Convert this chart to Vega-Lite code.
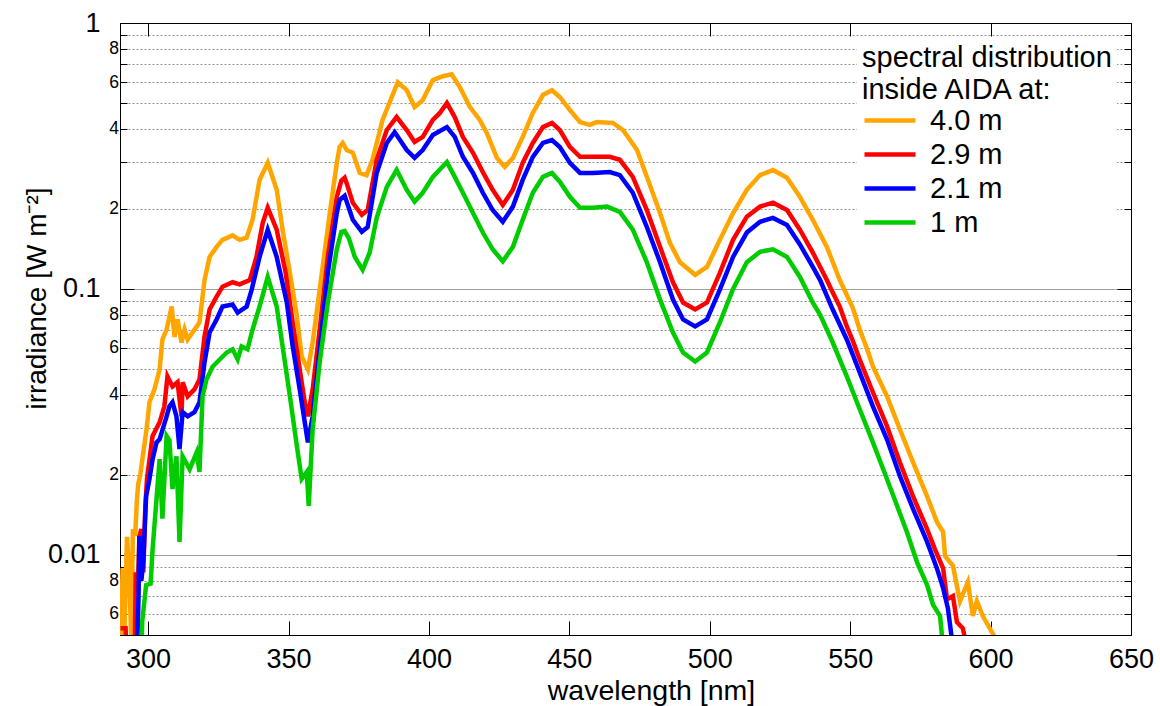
{
  "$schema": "https://vega.github.io/schema/vega-lite/v6.json",
  "autosize": {"type": "none"},
  "padding": {"left": 120, "top": 23, "right": 29, "bottom": 71},
  "width": 1011,
  "height": 612,
  "config": {"font": "Liberation Sans", "view": {"stroke": "black", "strokeWidth": 1}},
  "data": {"values": [
    {"wl":290.3,"E":0.004,"h":"4.0 m"},{"wl":290.5,"E":0.0053,"h":"4.0 m"},{"wl":290.9,"E":0.0089,"h":"4.0 m"},{"wl":291.4,"E":0.0045,"h":"4.0 m"},{"wl":292.5,"E":0.0117,"h":"4.0 m"},{"wl":293.3,"E":0.0085,"h":"4.0 m"},{"wl":294.0,"E":0.0048,"h":"4.0 m"},{"wl":294.6,"E":0.0125,"h":"4.0 m"},{"wl":295.4,"E":0.0118,"h":"4.0 m"},{"wl":296.0,"E":0.016,"h":"4.0 m"},{"wl":296.5,"E":0.0185,"h":"4.0 m"},{"wl":297.2,"E":0.02,"h":"4.0 m"},{"wl":298.8,"E":0.0265,"h":"4.0 m"},{"wl":299.5,"E":0.03,"h":"4.0 m"},{"wl":300.5,"E":0.0375,"h":"4.0 m"},{"wl":302.3,"E":0.042,"h":"4.0 m"},{"wl":304.1,"E":0.0498,"h":"4.0 m"},{"wl":305.1,"E":0.0646,"h":"4.0 m"},{"wl":306.6,"E":0.0704,"h":"4.0 m"},{"wl":308.4,"E":0.0859,"h":"4.0 m"},{"wl":309.4,"E":0.066,"h":"4.0 m"},{"wl":310.5,"E":0.0768,"h":"4.0 m"},{"wl":311.9,"E":0.0629,"h":"4.0 m"},{"wl":313.0,"E":0.0704,"h":"4.0 m"},{"wl":314.1,"E":0.0646,"h":"4.0 m"},{"wl":315.8,"E":0.0686,"h":"4.0 m"},{"wl":318.3,"E":0.0748,"h":"4.0 m"},{"wl":320.1,"E":0.108,"h":"4.0 m"},{"wl":321.9,"E":0.132,"h":"4.0 m"},{"wl":324.4,"E":0.144,"h":"4.0 m"},{"wl":326.5,"E":0.153,"h":"4.0 m"},{"wl":330.1,"E":0.159,"h":"4.0 m"},{"wl":332.6,"E":0.153,"h":"4.0 m"},{"wl":335.1,"E":0.156,"h":"4.0 m"},{"wl":337.2,"E":0.182,"h":"4.0 m"},{"wl":339.7,"E":0.257,"h":"4.0 m"},{"wl":342.6,"E":0.298,"h":"4.0 m"},{"wl":345.8,"E":0.236,"h":"4.0 m"},{"wl":347.9,"E":0.167,"h":"4.0 m"},{"wl":350.5,"E":0.115,"h":"4.0 m"},{"wl":353.0,"E":0.0788,"h":"4.0 m"},{"wl":354.7,"E":0.0558,"h":"4.0 m"},{"wl":356.9,"E":0.0498,"h":"4.0 m"},{"wl":358.6,"E":0.0629,"h":"4.0 m"},{"wl":361.1,"E":0.0995,"h":"4.0 m"},{"wl":364.7,"E":0.193,"h":"4.0 m"},{"wl":367.2,"E":0.298,"h":"4.0 m"},{"wl":368.2,"E":0.342,"h":"4.0 m"},{"wl":369.3,"E":0.354,"h":"4.0 m"},{"wl":370.7,"E":0.333,"h":"4.0 m"},{"wl":372.9,"E":0.325,"h":"4.0 m"},{"wl":375.4,"E":0.273,"h":"4.0 m"},{"wl":377.8,"E":0.268,"h":"4.0 m"},{"wl":379.9,"E":0.306,"h":"4.0 m"},{"wl":383.5,"E":0.432,"h":"4.0 m"},{"wl":388.9,"E":0.599,"h":"4.0 m"},{"wl":392.1,"E":0.559,"h":"4.0 m"},{"wl":394.9,"E":0.483,"h":"4.0 m"},{"wl":397.8,"E":0.513,"h":"4.0 m"},{"wl":401.4,"E":0.61,"h":"4.0 m"},{"wl":405.0,"E":0.631,"h":"4.0 m"},{"wl":408.1,"E":0.642,"h":"4.0 m"},{"wl":411.0,"E":0.574,"h":"4.0 m"},{"wl":414.6,"E":0.483,"h":"4.0 m"},{"wl":418.1,"E":0.432,"h":"4.0 m"},{"wl":420.6,"E":0.386,"h":"4.0 m"},{"wl":424.2,"E":0.311,"h":"4.0 m"},{"wl":427.0,"E":0.288,"h":"4.0 m"},{"wl":429.9,"E":0.311,"h":"4.0 m"},{"wl":433.4,"E":0.373,"h":"4.0 m"},{"wl":437.0,"E":0.459,"h":"4.0 m"},{"wl":440.6,"E":0.536,"h":"4.0 m"},{"wl":443.8,"E":0.559,"h":"4.0 m"},{"wl":446.6,"E":0.527,"h":"4.0 m"},{"wl":450.2,"E":0.471,"h":"4.0 m"},{"wl":453.8,"E":0.424,"h":"4.0 m"},{"wl":457.3,"E":0.414,"h":"4.0 m"},{"wl":459.8,"E":0.424,"h":"4.0 m"},{"wl":465.5,"E":0.421,"h":"4.0 m"},{"wl":469.1,"E":0.396,"h":"4.0 m"},{"wl":474.1,"E":0.333,"h":"4.0 m"},{"wl":477.6,"E":0.264,"h":"4.0 m"},{"wl":482.3,"E":0.193,"h":"4.0 m"},{"wl":485.8,"E":0.149,"h":"4.0 m"},{"wl":489.4,"E":0.126,"h":"4.0 m"},{"wl":494.8,"E":0.113,"h":"4.0 m"},{"wl":499.0,"E":0.121,"h":"4.0 m"},{"wl":503.6,"E":0.153,"h":"4.0 m"},{"wl":508.3,"E":0.193,"h":"4.0 m"},{"wl":513.2,"E":0.236,"h":"4.0 m"},{"wl":517.9,"E":0.268,"h":"4.0 m"},{"wl":522.5,"E":0.28,"h":"4.0 m"},{"wl":527.5,"E":0.262,"h":"4.0 m"},{"wl":532.1,"E":0.222,"h":"4.0 m"},{"wl":536.7,"E":0.182,"h":"4.0 m"},{"wl":541.7,"E":0.144,"h":"4.0 m"},{"wl":546.3,"E":0.108,"h":"4.0 m"},{"wl":550.9,"E":0.0852,"h":"4.0 m"},{"wl":553.4,"E":0.0704,"h":"4.0 m"},{"wl":555.9,"E":0.06,"h":"4.0 m"},{"wl":558.1,"E":0.0511,"h":"4.0 m"},{"wl":563.1,"E":0.0395,"h":"4.0 m"},{"wl":567.7,"E":0.0297,"h":"4.0 m"},{"wl":572.4,"E":0.0223,"h":"4.0 m"},{"wl":577.4,"E":0.0166,"h":"4.0 m"},{"wl":580.9,"E":0.0133,"h":"4.0 m"},{"wl":583.1,"E":0.0122,"h":"4.0 m"},{"wl":583.8,"E":0.0099,"h":"4.0 m"},{"wl":586.6,"E":0.0091,"h":"4.0 m"},{"wl":589.1,"E":0.0067,"h":"4.0 m"},{"wl":591.9,"E":0.0079,"h":"4.0 m"},{"wl":593.7,"E":0.0059,"h":"4.0 m"},{"wl":595.1,"E":0.0067,"h":"4.0 m"},{"wl":597.2,"E":0.0059,"h":"4.0 m"},{"wl":599.7,"E":0.0053,"h":"4.0 m"},{"wl":601.5,"E":0.0049,"h":"4.0 m"},

    {"wl":290.2,"E":0.0053,"h":"2.9 m"},{"wl":292.0,"E":0.0053,"h":"2.9 m"},{"wl":292.4,"E":0.004,"h":"2.9 m"},{"wl":295.2,"E":0.004,"h":"2.9 m"},{"wl":295.6,"E":0.0086,"h":"2.9 m"},{"wl":296.2,"E":0.0065,"h":"2.9 m"},{"wl":296.9,"E":0.0117,"h":"2.9 m"},{"wl":297.6,"E":0.0125,"h":"2.9 m"},{"wl":298.3,"E":0.0086,"h":"2.9 m"},{"wl":299.0,"E":0.015,"h":"2.9 m"},{"wl":299.6,"E":0.0193,"h":"2.9 m"},{"wl":301.6,"E":0.028,"h":"2.9 m"},{"wl":304.1,"E":0.0315,"h":"2.9 m"},{"wl":305.8,"E":0.0362,"h":"2.9 m"},{"wl":306.9,"E":0.0469,"h":"2.9 m"},{"wl":308.7,"E":0.043,"h":"2.9 m"},{"wl":310.5,"E":0.0446,"h":"2.9 m"},{"wl":311.9,"E":0.0332,"h":"2.9 m"},{"wl":312.3,"E":0.0446,"h":"2.9 m"},{"wl":314.1,"E":0.0395,"h":"2.9 m"},{"wl":316.5,"E":0.0419,"h":"2.9 m"},{"wl":318.3,"E":0.0457,"h":"2.9 m"},{"wl":320.1,"E":0.0663,"h":"2.9 m"},{"wl":321.9,"E":0.0837,"h":"2.9 m"},{"wl":324.4,"E":0.0936,"h":"2.9 m"},{"wl":326.5,"E":0.102,"h":"2.9 m"},{"wl":330.1,"E":0.106,"h":"2.9 m"},{"wl":332.6,"E":0.104,"h":"2.9 m"},{"wl":336.2,"E":0.108,"h":"2.9 m"},{"wl":338.6,"E":0.132,"h":"2.9 m"},{"wl":340.8,"E":0.177,"h":"2.9 m"},{"wl":342.6,"E":0.202,"h":"2.9 m"},{"wl":345.8,"E":0.167,"h":"2.9 m"},{"wl":349.0,"E":0.115,"h":"2.9 m"},{"wl":351.5,"E":0.0748,"h":"2.9 m"},{"wl":354.0,"E":0.0498,"h":"2.9 m"},{"wl":355.8,"E":0.0375,"h":"2.9 m"},{"wl":356.9,"E":0.0332,"h":"2.9 m"},{"wl":358.6,"E":0.0419,"h":"2.9 m"},{"wl":361.1,"E":0.0704,"h":"2.9 m"},{"wl":364.0,"E":0.132,"h":"2.9 m"},{"wl":367.2,"E":0.222,"h":"2.9 m"},{"wl":368.8,"E":0.255,"h":"2.9 m"},{"wl":370.0,"E":0.262,"h":"2.9 m"},{"wl":370.7,"E":0.25,"h":"2.9 m"},{"wl":372.9,"E":0.211,"h":"2.9 m"},{"wl":376.1,"E":0.19,"h":"2.9 m"},{"wl":378.2,"E":0.198,"h":"2.9 m"},{"wl":381.4,"E":0.306,"h":"2.9 m"},{"wl":385.0,"E":0.396,"h":"2.9 m"},{"wl":388.5,"E":0.443,"h":"2.9 m"},{"wl":392.1,"E":0.396,"h":"2.9 m"},{"wl":394.9,"E":0.357,"h":"2.9 m"},{"wl":397.8,"E":0.373,"h":"2.9 m"},{"wl":401.4,"E":0.432,"h":"2.9 m"},{"wl":403.9,"E":0.459,"h":"2.9 m"},{"wl":406.4,"E":0.5,"h":"2.9 m"},{"wl":409.2,"E":0.443,"h":"2.9 m"},{"wl":412.1,"E":0.373,"h":"2.9 m"},{"wl":415.7,"E":0.325,"h":"2.9 m"},{"wl":419.2,"E":0.275,"h":"2.9 m"},{"wl":422.7,"E":0.236,"h":"2.9 m"},{"wl":426.3,"E":0.207,"h":"2.9 m"},{"wl":429.9,"E":0.236,"h":"2.9 m"},{"wl":433.4,"E":0.298,"h":"2.9 m"},{"wl":437.0,"E":0.354,"h":"2.9 m"},{"wl":440.6,"E":0.406,"h":"2.9 m"},{"wl":443.8,"E":0.421,"h":"2.9 m"},{"wl":446.6,"E":0.396,"h":"2.9 m"},{"wl":450.2,"E":0.342,"h":"2.9 m"},{"wl":453.8,"E":0.314,"h":"2.9 m"},{"wl":458.4,"E":0.314,"h":"2.9 m"},{"wl":464.4,"E":0.314,"h":"2.9 m"},{"wl":468.0,"E":0.306,"h":"2.9 m"},{"wl":472.6,"E":0.264,"h":"2.9 m"},{"wl":477.6,"E":0.198,"h":"2.9 m"},{"wl":482.3,"E":0.144,"h":"2.9 m"},{"wl":486.9,"E":0.106,"h":"2.9 m"},{"wl":490.5,"E":0.0889,"h":"2.9 m"},{"wl":494.8,"E":0.0837,"h":"2.9 m"},{"wl":499.0,"E":0.0889,"h":"2.9 m"},{"wl":503.6,"E":0.115,"h":"2.9 m"},{"wl":508.3,"E":0.153,"h":"2.9 m"},{"wl":513.2,"E":0.187,"h":"2.9 m"},{"wl":517.9,"E":0.204,"h":"2.9 m"},{"wl":522.5,"E":0.211,"h":"2.9 m"},{"wl":527.5,"E":0.198,"h":"2.9 m"},{"wl":532.1,"E":0.167,"h":"2.9 m"},{"wl":536.7,"E":0.137,"h":"2.9 m"},{"wl":541.7,"E":0.108,"h":"2.9 m"},{"wl":543.8,"E":0.0969,"h":"2.9 m"},{"wl":546.3,"E":0.0859,"h":"2.9 m"},{"wl":548.8,"E":0.0723,"h":"2.9 m"},{"wl":550.9,"E":0.064,"h":"2.9 m"},{"wl":553.4,"E":0.0543,"h":"2.9 m"},{"wl":558.1,"E":0.0409,"h":"2.9 m"},{"wl":563.1,"E":0.0305,"h":"2.9 m"},{"wl":567.7,"E":0.0223,"h":"2.9 m"},{"wl":572.4,"E":0.0166,"h":"2.9 m"},{"wl":577.4,"E":0.0125,"h":"2.9 m"},{"wl":580.2,"E":0.0105,"h":"2.9 m"},{"wl":583.1,"E":0.0089,"h":"2.9 m"},{"wl":584.5,"E":0.0068,"h":"2.9 m"},{"wl":586.6,"E":0.007,"h":"2.9 m"},{"wl":588.0,"E":0.0056,"h":"2.9 m"},{"wl":590.1,"E":0.0053,"h":"2.9 m"},{"wl":591.6,"E":0.0045,"h":"2.9 m"},

    {"wl":296.0,"E":0.004,"h":"2.1 m"},{"wl":296.6,"E":0.007,"h":"2.1 m"},{"wl":296.9,"E":0.0118,"h":"2.1 m"},{"wl":297.6,"E":0.008,"h":"2.1 m"},{"wl":298.3,"E":0.0095,"h":"2.1 m"},{"wl":299.3,"E":0.0166,"h":"2.1 m"},{"wl":300.5,"E":0.0193,"h":"2.1 m"},{"wl":301.6,"E":0.0229,"h":"2.1 m"},{"wl":303.0,"E":0.0265,"h":"2.1 m"},{"wl":304.1,"E":0.0272,"h":"2.1 m"},{"wl":306.6,"E":0.0332,"h":"2.1 m"},{"wl":307.6,"E":0.0362,"h":"2.1 m"},{"wl":308.7,"E":0.0375,"h":"2.1 m"},{"wl":310.1,"E":0.0332,"h":"2.1 m"},{"wl":311.2,"E":0.025,"h":"2.1 m"},{"wl":312.3,"E":0.0344,"h":"2.1 m"},{"wl":314.1,"E":0.0332,"h":"2.1 m"},{"wl":316.5,"E":0.0344,"h":"2.1 m"},{"wl":318.3,"E":0.0375,"h":"2.1 m"},{"wl":320.1,"E":0.053,"h":"2.1 m"},{"wl":321.9,"E":0.0686,"h":"2.1 m"},{"wl":324.4,"E":0.0768,"h":"2.1 m"},{"wl":326.5,"E":0.0859,"h":"2.1 m"},{"wl":330.1,"E":0.0874,"h":"2.1 m"},{"wl":331.9,"E":0.0815,"h":"2.1 m"},{"wl":335.1,"E":0.0859,"h":"2.1 m"},{"wl":336.9,"E":0.0995,"h":"2.1 m"},{"wl":339.7,"E":0.132,"h":"2.1 m"},{"wl":342.6,"E":0.167,"h":"2.1 m"},{"wl":345.8,"E":0.132,"h":"2.1 m"},{"wl":349.4,"E":0.0889,"h":"2.1 m"},{"wl":351.5,"E":0.0608,"h":"2.1 m"},{"wl":354.0,"E":0.0419,"h":"2.1 m"},{"wl":355.8,"E":0.0315,"h":"2.1 m"},{"wl":356.9,"E":0.0265,"h":"2.1 m"},{"wl":358.6,"E":0.0332,"h":"2.1 m"},{"wl":361.1,"E":0.0593,"h":"2.1 m"},{"wl":364.0,"E":0.115,"h":"2.1 m"},{"wl":367.2,"E":0.193,"h":"2.1 m"},{"wl":368.2,"E":0.216,"h":"2.1 m"},{"wl":370.0,"E":0.224,"h":"2.1 m"},{"wl":372.9,"E":0.182,"h":"2.1 m"},{"wl":376.1,"E":0.164,"h":"2.1 m"},{"wl":378.2,"E":0.171,"h":"2.1 m"},{"wl":381.4,"E":0.273,"h":"2.1 m"},{"wl":385.0,"E":0.354,"h":"2.1 m"},{"wl":387.8,"E":0.389,"h":"2.1 m"},{"wl":392.1,"E":0.333,"h":"2.1 m"},{"wl":394.9,"E":0.311,"h":"2.1 m"},{"wl":397.8,"E":0.333,"h":"2.1 m"},{"wl":401.4,"E":0.379,"h":"2.1 m"},{"wl":406.4,"E":0.406,"h":"2.1 m"},{"wl":409.2,"E":0.373,"h":"2.1 m"},{"wl":412.1,"E":0.314,"h":"2.1 m"},{"wl":415.7,"E":0.273,"h":"2.1 m"},{"wl":419.2,"E":0.23,"h":"2.1 m"},{"wl":422.7,"E":0.198,"h":"2.1 m"},{"wl":426.3,"E":0.179,"h":"2.1 m"},{"wl":429.9,"E":0.204,"h":"2.1 m"},{"wl":433.4,"E":0.257,"h":"2.1 m"},{"wl":437.0,"E":0.314,"h":"2.1 m"},{"wl":440.6,"E":0.354,"h":"2.1 m"},{"wl":443.8,"E":0.363,"h":"2.1 m"},{"wl":446.6,"E":0.342,"h":"2.1 m"},{"wl":450.2,"E":0.298,"h":"2.1 m"},{"wl":453.8,"E":0.273,"h":"2.1 m"},{"wl":458.4,"E":0.273,"h":"2.1 m"},{"wl":464.4,"E":0.275,"h":"2.1 m"},{"wl":468.0,"E":0.268,"h":"2.1 m"},{"wl":472.6,"E":0.23,"h":"2.1 m"},{"wl":477.6,"E":0.171,"h":"2.1 m"},{"wl":482.3,"E":0.126,"h":"2.1 m"},{"wl":486.9,"E":0.0912,"h":"2.1 m"},{"wl":490.5,"E":0.0768,"h":"2.1 m"},{"wl":494.8,"E":0.0723,"h":"2.1 m"},{"wl":499.0,"E":0.0768,"h":"2.1 m"},{"wl":503.6,"E":0.0995,"h":"2.1 m"},{"wl":508.3,"E":0.132,"h":"2.1 m"},{"wl":513.2,"E":0.163,"h":"2.1 m"},{"wl":517.9,"E":0.179,"h":"2.1 m"},{"wl":522.5,"E":0.185,"h":"2.1 m"},{"wl":527.5,"E":0.174,"h":"2.1 m"},{"wl":532.1,"E":0.147,"h":"2.1 m"},{"wl":536.7,"E":0.121,"h":"2.1 m"},{"wl":539.3,"E":0.108,"h":"2.1 m"},{"wl":543.8,"E":0.0837,"h":"2.1 m"},{"wl":548.8,"E":0.0646,"h":"2.1 m"},{"wl":553.4,"E":0.0486,"h":"2.1 m"},{"wl":558.1,"E":0.0362,"h":"2.1 m"},{"wl":563.1,"E":0.0272,"h":"2.1 m"},{"wl":567.7,"E":0.0198,"h":"2.1 m"},{"wl":572.4,"E":0.0149,"h":"2.1 m"},{"wl":577.4,"E":0.0112,"h":"2.1 m"},{"wl":580.9,"E":0.0089,"h":"2.1 m"},{"wl":583.1,"E":0.0075,"h":"2.1 m"},{"wl":584.8,"E":0.0063,"h":"2.1 m"},{"wl":586.6,"E":0.0045,"h":"2.1 m"},

    {"wl":297.6,"E":0.004,"h":"1 m"},{"wl":297.9,"E":0.0056,"h":"1 m"},{"wl":299.3,"E":0.0077,"h":"1 m"},{"wl":300.9,"E":0.0078,"h":"1 m"},{"wl":301.6,"E":0.0105,"h":"1 m"},{"wl":303.0,"E":0.0162,"h":"1 m"},{"wl":304.1,"E":0.0229,"h":"1 m"},{"wl":305.1,"E":0.0137,"h":"1 m"},{"wl":306.6,"E":0.028,"h":"1 m"},{"wl":307.6,"E":0.027,"h":"1 m"},{"wl":308.7,"E":0.0177,"h":"1 m"},{"wl":310.1,"E":0.0235,"h":"1 m"},{"wl":311.2,"E":0.0112,"h":"1 m"},{"wl":312.3,"E":0.0235,"h":"1 m"},{"wl":314.8,"E":0.021,"h":"1 m"},{"wl":317.3,"E":0.0243,"h":"1 m"},{"wl":318.3,"E":0.0205,"h":"1 m"},{"wl":319.4,"E":0.0395,"h":"1 m"},{"wl":320.8,"E":0.0457,"h":"1 m"},{"wl":323.0,"E":0.0511,"h":"1 m"},{"wl":325.5,"E":0.0543,"h":"1 m"},{"wl":328.0,"E":0.0577,"h":"1 m"},{"wl":330.1,"E":0.0593,"h":"1 m"},{"wl":331.9,"E":0.0543,"h":"1 m"},{"wl":333.3,"E":0.0608,"h":"1 m"},{"wl":335.4,"E":0.0593,"h":"1 m"},{"wl":337.2,"E":0.0704,"h":"1 m"},{"wl":339.7,"E":0.0859,"h":"1 m"},{"wl":342.6,"E":0.111,"h":"1 m"},{"wl":345.8,"E":0.0859,"h":"1 m"},{"wl":347.9,"E":0.0608,"h":"1 m"},{"wl":350.5,"E":0.0395,"h":"1 m"},{"wl":353.0,"E":0.0256,"h":"1 m"},{"wl":354.7,"E":0.0193,"h":"1 m"},{"wl":356.5,"E":0.0205,"h":"1 m"},{"wl":357.2,"E":0.0153,"h":"1 m"},{"wl":358.6,"E":0.0297,"h":"1 m"},{"wl":361.1,"E":0.053,"h":"1 m"},{"wl":364.0,"E":0.0889,"h":"1 m"},{"wl":367.2,"E":0.141,"h":"1 m"},{"wl":368.8,"E":0.164,"h":"1 m"},{"wl":370.0,"E":0.165,"h":"1 m"},{"wl":371.5,"E":0.155,"h":"1 m"},{"wl":373.6,"E":0.132,"h":"1 m"},{"wl":376.4,"E":0.118,"h":"1 m"},{"wl":378.9,"E":0.137,"h":"1 m"},{"wl":381.4,"E":0.185,"h":"1 m"},{"wl":385.0,"E":0.242,"h":"1 m"},{"wl":388.5,"E":0.28,"h":"1 m"},{"wl":392.1,"E":0.236,"h":"1 m"},{"wl":394.9,"E":0.213,"h":"1 m"},{"wl":397.8,"E":0.23,"h":"1 m"},{"wl":401.4,"E":0.264,"h":"1 m"},{"wl":406.4,"E":0.3,"h":"1 m"},{"wl":409.2,"E":0.264,"h":"1 m"},{"wl":412.1,"E":0.23,"h":"1 m"},{"wl":415.7,"E":0.193,"h":"1 m"},{"wl":419.2,"E":0.163,"h":"1 m"},{"wl":422.7,"E":0.141,"h":"1 m"},{"wl":426.3,"E":0.127,"h":"1 m"},{"wl":429.9,"E":0.144,"h":"1 m"},{"wl":433.4,"E":0.182,"h":"1 m"},{"wl":437.0,"E":0.23,"h":"1 m"},{"wl":440.6,"E":0.264,"h":"1 m"},{"wl":443.8,"E":0.273,"h":"1 m"},{"wl":446.6,"E":0.253,"h":"1 m"},{"wl":450.2,"E":0.222,"h":"1 m"},{"wl":453.8,"E":0.202,"h":"1 m"},{"wl":458.4,"E":0.202,"h":"1 m"},{"wl":463.4,"E":0.204,"h":"1 m"},{"wl":468.0,"E":0.195,"h":"1 m"},{"wl":472.6,"E":0.167,"h":"1 m"},{"wl":477.6,"E":0.126,"h":"1 m"},{"wl":482.3,"E":0.0912,"h":"1 m"},{"wl":486.9,"E":0.0686,"h":"1 m"},{"wl":490.5,"E":0.0577,"h":"1 m"},{"wl":494.8,"E":0.0534,"h":"1 m"},{"wl":499.0,"E":0.0577,"h":"1 m"},{"wl":503.6,"E":0.0748,"h":"1 m"},{"wl":508.3,"E":0.1,"h":"1 m"},{"wl":513.2,"E":0.126,"h":"1 m"},{"wl":517.9,"E":0.138,"h":"1 m"},{"wl":522.5,"E":0.141,"h":"1 m"},{"wl":527.5,"E":0.132,"h":"1 m"},{"wl":532.1,"E":0.111,"h":"1 m"},{"wl":536.7,"E":0.0889,"h":"1 m"},{"wl":539.3,"E":0.08,"h":"1 m"},{"wl":543.8,"E":0.0629,"h":"1 m"},{"wl":548.8,"E":0.0469,"h":"1 m"},{"wl":553.4,"E":0.0353,"h":"1 m"},{"wl":558.1,"E":0.0265,"h":"1 m"},{"wl":563.1,"E":0.0193,"h":"1 m"},{"wl":566.7,"E":0.0153,"h":"1 m"},{"wl":570.2,"E":0.0122,"h":"1 m"},{"wl":573.8,"E":0.0094,"h":"1 m"},{"wl":577.4,"E":0.0077,"h":"1 m"},{"wl":579.5,"E":0.0065,"h":"1 m"},{"wl":582.0,"E":0.0059,"h":"1 m"},{"wl":583.1,"E":0.0045,"h":"1 m"}
  ]},
  "resolve": {"axis": {"x": "independent", "y": "independent"}},
  "layer": [
    {
      "mark": {"type": "line", "strokeWidth": 4.5, "clip": true},
      "encoding": {
        "x": {"field": "wl", "type": "quantitative",
          "scale": {"domain": [290, 650], "nice": false, "zero": false},
          "axis": {"orient": "bottom", "values": [300, 350, 400, 450, 500, 550, 600, 650],
            "tickSize": -14, "tickColor": "black", "labelPadding": 25, "labelFontSize": 27, "labelColor": "black",
            "labelFlush": false, "labelOverlap": false, "grid": false, "domainColor": "black",
            "title": "wavelength [nm]", "titleFontSize": 28.5, "titleFontWeight": "normal", "titleColor": "black",
            "titleX": 531, "titleY": 55, "titleBaseline": "middle", "titleAlign": "center"}},
        "y": {"field": "E", "type": "quantitative",
          "scale": {"type": "log", "domain": [0.005, 1], "nice": false},
          "axis": {"orient": "left", "values": [1, 0.1, 0.01],
            "labelExpr": "datum.value >= 0.5 ? '1' : datum.value >= 0.05 ? '0.1' : '0.01'",
            "tickSize": -14, "tickColor": "black", "labelPadding": 34, "labelFontSize": 27, "labelColor": "black",
            "labelFlush": false, "labelOverlap": false, "domainColor": "black",
            "grid": true, "gridColor": "#a0a0a0", "gridWidth": 1,
            "gridOpacity": {"condition": {"test": "datum.value >= 0.5", "value": 0}, "value": 1},
            "title": "irradiance [W m⁻²]", "titleFontSize": 28, "titleFontWeight": "normal", "titleColor": "black",
            "titleX": -83, "titleY": 275, "titleAngle": 270, "titleBaseline": "middle", "titleAlign": "center"}},
        "color": {"field": "h", "type": "nominal",
          "scale": {"domain": ["4.0 m", "2.9 m", "2.1 m", "1 m"], "range": ["#FFA500", "#FF0000", "#0000FF", "#00CC00"]},
          "legend": {"orient": "none", "legendX": 737, "legendY": 16,
            "title": ["spectral distribution", "inside AIDA at:"],
            "titleFontSize": 29, "titleFontWeight": "normal", "titleColor": "black", "titleLineHeight": 32,
            "titlePadding": 2, "titleLimit": 400,
            "labelFontSize": 29, "labelColor": "black", "labelOffset": 12, "labelLimit": 300,
            "symbolType": "stroke", "symbolSize": 2601, "symbolStrokeWidth": 4.5,
            "clipHeight": 27, "rowPadding": 4,
            "fillColor": "white", "padding": 5}}
      }
    },
    {
      "mark": {"type": "point", "opacity": 0, "clip": true},
      "encoding": {
        "x": {"field": "wl", "type": "quantitative", "scale": {"domain": [290, 650], "nice": false, "zero": false}, "axis": null},
        "y": {"field": "E", "type": "quantitative",
          "scale": {"type": "log", "domain": [0.005, 1], "nice": false},
          "axis": {"orient": "left", "values": [0.9, 0.8, 0.7, 0.6, 0.5, 0.4, 0.3, 0.2, 0.09, 0.08, 0.07, 0.06, 0.05, 0.04, 0.03, 0.02, 0.009, 0.008, 0.007, 0.006],
            "labelExpr": "indexof([2,4,6,8], round(datum.value / pow(10, floor(log(datum.value)/LN10 + 1e-9)))) >= 0 ? '' + round(datum.value / pow(10, floor(log(datum.value)/LN10 + 1e-9))) : ''",
            "tickSize": -7, "tickColor": "black", "labelPadding": 8.5, "labelFontSize": 17.5, "labelColor": "black",
            "labelFlush": false, "labelOverlap": false, "domain": false,
            "grid": true, "gridColor": "#909090", "gridWidth": 1, "gridDash": [2, 2],
            "title": null}}
      }
    },
    {
      "mark": {"type": "point", "opacity": 0, "clip": true},
      "encoding": {
        "x": {"field": "wl", "type": "quantitative", "scale": {"domain": [290, 650], "nice": false, "zero": false},
          "axis": {"orient": "top", "values": [300, 350, 400, 450, 500, 550, 600, 650], "tickSize": -13, "tickColor": "black",
            "labels": false, "domain": false, "grid": false, "title": null}},
        "y": {"field": "E", "type": "quantitative",
          "scale": {"type": "log", "domain": [0.005, 1], "nice": false},
          "axis": {"orient": "right", "values": [1, 0.1, 0.01], "tickSize": -14, "tickColor": "black",
            "labels": false, "domain": false, "grid": false, "title": null}}
      }
    },
    {
      "mark": {"type": "point", "opacity": 0, "clip": true},
      "encoding": {
        "x": {"field": "wl", "type": "quantitative", "scale": {"domain": [290, 650], "nice": false, "zero": false}, "axis": null},
        "y": {"field": "E", "type": "quantitative",
          "scale": {"type": "log", "domain": [0.005, 1], "nice": false},
          "axis": {"orient": "right", "values": [0.9, 0.8, 0.7, 0.6, 0.5, 0.4, 0.3, 0.2, 0.09, 0.08, 0.07, 0.06, 0.05, 0.04, 0.03, 0.02, 0.009, 0.008, 0.007, 0.006],
            "tickSize": -7, "tickColor": "black", "labels": false, "domain": false, "grid": false, "title": null}}
      }
    }
  ]
}
